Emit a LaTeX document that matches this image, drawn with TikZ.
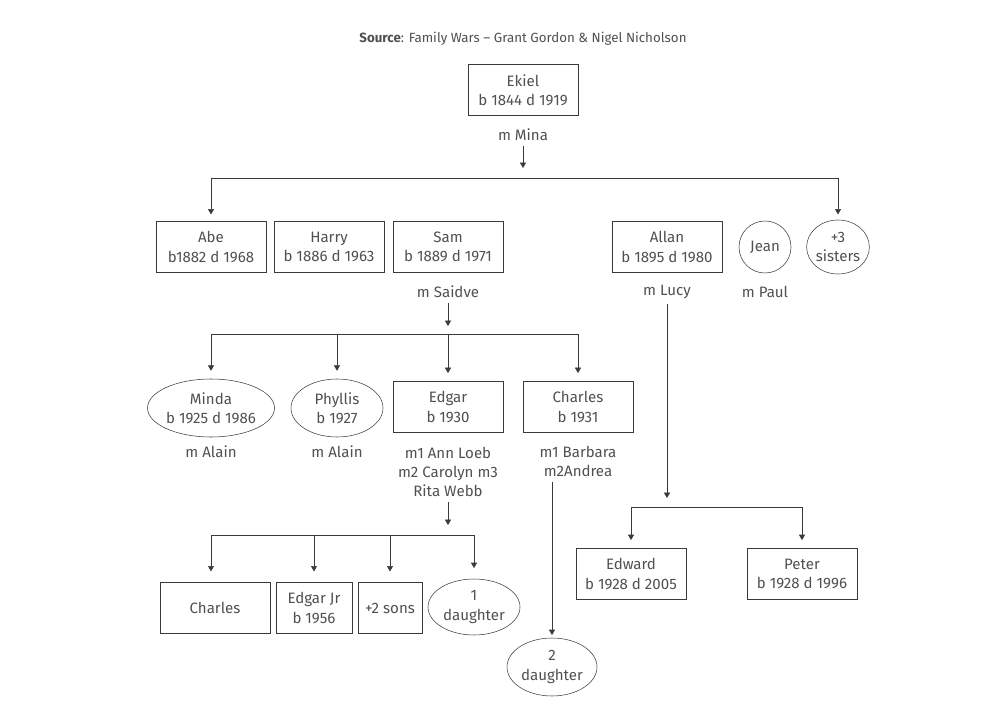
\documentclass[tikz,border=0pt]{standalone}
\usepackage{fontspec}
\setmainfont{Fira Sans}
\usetikzlibrary{arrows.meta,shapes.geometric}
\definecolor{txtgray}{HTML}{505050}
\definecolor{linegray}{HTML}{3A3A3A}
\begin{document}
\begin{tikzpicture}[x=0.75pt,y=-0.75pt,
  every node/.style={font=\fontsize{11.3}{14.5}\selectfont,text=txtgray,align=center},
  person/.style={draw=linegray,minimum width=82.5pt,minimum height=38.5pt,inner sep=1pt},
  oval/.style={draw=linegray,ellipse,inner sep=0pt},
  arr/.style={draw=linegray,-{Triangle[length=4pt,width=4.5pt]}},
  bar/.style={draw=linegray}]
\useasboundingbox (0,0) rectangle (999,723);

% source
\node[font=\fontsize{10}{12}\selectfont] (src) at (523,39)
  {\textbf{Source}: Family Wars – Grant Gordon \& Nigel Nicholson};

% first generation
\node[person] (ekiel) at (523,90) {Ekiel\\b 1844 d 1919};
\node (mina) at (523,135) {m Mina};
\coordinate (minatip) at (523,168);
\coordinate (bar1) at (523,178);

% second generation
\node[person] (abe) at (211,247) {Abe\\b1882 d 1968};
\node[person] (harry) at (329,247) {Harry\\b 1886 d 1963};
\node[person] (sam) at (448,247) {Sam\\b 1889 d 1971};
\node[person] (allan) at (667,247) {Allan\\b 1895 d 1980};
\node[oval,minimum width=39pt,minimum height=39pt] (jean) at (765,247) {Jean};
\node[oval,minimum width=40.5pt,minimum height=40.5pt] (sisters) at (838,247) {+3\\sisters};
\node (saidve) at (448,292) {m Saidve};
\node (lucy) at (667,292) {m Lucy};
\node (paul) at (765,292) {m Paul};

\draw[arr] (mina.south) -- (minatip);
\draw[bar] (abe.north |- bar1) -- (sisters.north |- bar1);
\draw[arr,shorten >=5pt] (abe.north |- bar1) -- (abe.north);
\draw[arr,shorten >=4pt] (sisters.north |- bar1) -- (sisters.north);

% Sam's children
\coordinate (saidvetip) at (448,326);
\coordinate (bar2) at (448,334);
\node[oval,minimum width=91.5pt,minimum height=43.5pt] (minda) at (211,408) {Minda\\b 1925 d 1986};
\node[oval,minimum width=69pt,minimum height=43.5pt] (phyllis) at (337,408) {Phyllis\\b 1927};
\node[person] (edgar) at (448,407) {Edgar\\b 1930};
\node[person] (charles) at (578,407) {Charles\\b 1931};
\node (alain1) at (211,452) {m Alain};
\node (alain2) at (337,452) {m Alain};
\node (edgarm) at (448,472) {m1 Ann Loeb\\m2 Carolyn m3\\Rita Webb};
\node (charlesm) at (578,461.5) {m1 Barbara\\m2Andrea};

\draw[arr] (saidve.south) -- (saidvetip);
\draw[bar] (minda.north |- bar2) -- (charles.north |- bar2);
\foreach \kid in {minda,phyllis,edgar,charles}
  \draw[arr,shorten >=6pt] (\kid.north |- bar2) -- (\kid.north);

% Edgar's children
\coordinate (edgartip) at (448,525);
\coordinate (bar3) at (448,535);
\node[person] (charlesb) at (215,608) {Charles};
\node[person,minimum width=57pt] (edgarjr) at (314,608) {Edgar Jr\\b 1956};
\node[person,minimum width=48pt] (sons) at (390,608) {+2 sons};
\node[oval,minimum width=69pt,minimum height=42pt] (daughter1) at (474,607) {1\\daughter};

\draw[arr] (edgarm.south) -- (edgartip);
\draw[bar] (211,535) -- (daughter1.north |- bar3);
\draw[arr,shorten >=8pt] (211,535) -- (211,582);
\foreach \kid in {edgarjr,sons,daughter1}
  \draw[arr,shorten >=8pt] (\kid.north |- bar3) -- (\kid.north);

% Charles's child
\node[oval,minimum width=67.5pt,minimum height=43.5pt] (daughter2) at (552,667) {2\\daughter};
\draw[arr,shorten >=2pt] (charlesm.south -| daughter2.north) -- (daughter2.north);

% Allan's children
\coordinate (lucytip) at (667,498);
\coordinate (bar4) at (667,507);
\node[person] (edward) at (631,574) {Edward\\b 1928 d 2005};
\node[person] (peter) at (802,574) {Peter\\b 1928 d 1996};

\draw[arr] (lucy.south) -- (lucytip);
\draw[bar] (edward.north |- bar4) -- (peter.north |- bar4);
\foreach \kid in {edward,peter}
  \draw[arr,shorten >=6pt] (\kid.north |- bar4) -- (\kid.north);
\end{tikzpicture}
\end{document}
